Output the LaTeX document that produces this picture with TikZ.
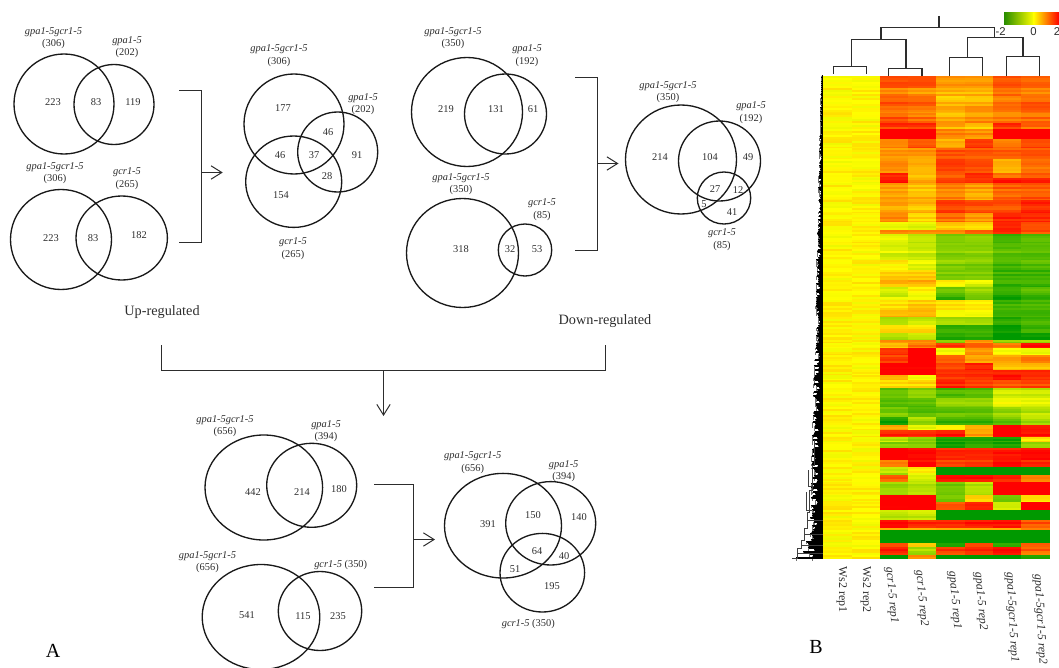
\documentclass[tikz,border=0pt]{standalone}
\usepackage{fontspec}
\setmainfont{Liberation Serif}
\newfontfamily\keyfont{Liberation Sans}
\usetikzlibrary{arrows.meta}
\definecolor{ink}{RGB}{45,45,45}
\tikzset{
  >={Straight Barb[length=8pt,width=10pt,line width=.75pt]},
  ring/.style={draw=black!90,line width=1pt},
  bracket/.style={draw=ink,line width=.75pt},
  flow/.style={->,draw=ink,line width=.75pt},
  num/.style={font=\fontsize{7.8}{9.4}\selectfont,text=ink,inner sep=0pt},
  geno/.style={font=\fontsize{7.8}{9.4}\selectfont,text=ink,align=center,inner sep=0pt},
  regul/.style={font=\fontsize{10.7}{12}\selectfont,text=ink,inner sep=0pt},
  panel/.style={font=\fontsize{15}{16}\selectfont,text=black,inner sep=0pt},
  dendro/.style={draw=ink,line width=.9pt},
  twig/.style={draw=black!75,line width=.5pt},
  collabel/.style={font=\fontsize{9}{10}\selectfont,text=ink,anchor=west,inner sep=0pt},
  keylabel/.style={font=\keyfont\fontsize{8.5}{10}\selectfont,text=ink,inner sep=0pt},
}
\newcommand{\gt}[2]{\textit{#1}\\(#2)}
% one heat map cell: column, row top, value from -2 to 2
\newcommand{\heatcell}[3]{
  \pgfmathsetmacro\hv{max(-2,min(2,#3))}
  \pgfmathsetmacro\hr{\hv<0?1+\hv/2:1}
  \pgfmathsetmacro\hg{\hv<0?1+0.2*\hv:1-\hv/2}
  \definecolor{heatcol}{rgb}{\hr,\hg,0}
  \fill[heatcol] ({823.3+28.25*#1},#2) rectangle ({823.3+28.25*(#1+1)+.4},#2+2.2);
}
\begin{document}
\begin{tikzpicture}[x=.75pt,y=-.75pt]
  \clip (0,0) rectangle (1059,667);
  % venn circles
  \foreach \cx/\cy/\rx/\ry in {
    64/104/50/50, 114/104.5/40/40, 61/239.5/50.5/50, 121.7/238/45.7/42,
    294/124/50/50, 337.7/152/40/40, 293.7/181.7/48/45.7,
    467/112/55.5/54.5, 505.5/114/41/40, 462.5/253/56/54.5, 525/250/26.7/26,
    681/159.5/55.5/54.5, 719.5/161/41/40, 724/198/26.7/26,
    263.8/487.5/58.8/52.5, 311.7/485.3/45/42, 261/617/58.8/52.5, 320/611/41.7/39.5,
    503/525.7/58.5/52.3, 550.7/523.3/45/41.7, 542.3/572.7/42.3/39.3}
    \draw[ring] (\cx,\cy) ellipse [x radius=\rx,y radius=\ry];
  % counts inside the circles
  \foreach \px/\py/\txt [count=\k] in {
    53/102/223, 96/102/83, 133/102/119, 51/238/223, 93/238/83, 139/235/182,
    283/108/177, 328/132/46, 280/155/46, 314/155/37, 357/155/91, 327/176/28, 281/195/154,
    446/109/219, 496/109/131, 533/109/61, 461/249/318, 510/249/32, 537/249/53,
    660/157/214, 710/157/104, 748/157/49, 715/189/27, 738/190/12, 704/204/5, 732/212/41,
    253/492/442, 302/492/214, 339/489/180, 247/615/541, 303/616/115, 338/616/235,
    488/524/391, 533/515/150, 579/517/140, 537/551/64, 564/556/40, 515/569/51, 552/586/195}
    \node[num] (n\k) at (\px,\py) {\txt};
  % genotype labels
  \foreach \px/\py/\gn/\ct [count=\k] in {
    53.5/38/gpa1-5gcr1-5/306, 127/47/gpa1-5/202, 55/173/gpa1-5gcr1-5/306, 127/178.5/gcr1-5/265,
    279/55.5/gpa1-5gcr1-5/306, 363/104/gpa1-5/202, 293/248.5/gcr1-5/265,
    453/38/gpa1-5gcr1-5/350, 527/55.5/gpa1-5/192, 461/184/gpa1-5gcr1-5/350, 542/209.5/gcr1-5/85,
    668/92/gpa1-5gcr1-5/350, 751/112.5/gpa1-5/192, 722/239.5/gcr1-5/85,
    225/426/gpa1-5gcr1-5/656, 326/431/gpa1-5/394, 207.5/562/gpa1-5gcr1-5/656,
    472.7/462.5/gpa1-5gcr1-5/656, 563.7/471/gpa1-5/394}
    \node[geno] (g\k) at (\px,\py) {\gt{\gn}{\ct}};
  \node[geno] (g20) at (340.7,565) {\textit{gcr1-5} (350)};
  \node[geno] (g21) at (528.3,624) {\textit{gcr1-5} (350)};
  \node[regul] (upreg) at (162,312) {Up-regulated};
  \node[regul] (downreg) at (605,321) {Down-regulated};
  \node[panel] (panelA) at (53,651) {A};
  \node[panel] (panelB) at (816,647) {B};
  % brackets and arrows
  \coordinate (upa) at (179,90.5);
  \coordinate (upb) at (201.5,90.5);
  \coordinate (upc) at (201.5,242.5);
  \coordinate (upd) at (179,242.5);
  \coordinate (upm) at (201.5,172.5);
  \coordinate (upe) at (222.7,172.5);
  \draw[bracket] (upa) -- (upb) -- (upc) -- (upd);
  \draw[flow] (upm) -- (upe);
  \coordinate (dna) at (575,77.5);
  \coordinate (dnb) at (597.5,77.5);
  \coordinate (dnc) at (597.5,250.5);
  \coordinate (dnd) at (575,250.5);
  \coordinate (dnm) at (597.5,163.5);
  \coordinate (dne) at (618.5,163.5);
  \draw[bracket] (dna) -- (dnb) -- (dnc) -- (dnd);
  \draw[flow] (dnm) -- (dne);
  \coordinate (bga) at (161.5,345);
  \coordinate (bgb) at (161.5,370.5);
  \coordinate (bgc) at (605.5,370.5);
  \coordinate (bgd) at (605.5,345);
  \coordinate (bgm) at (383.5,370.5);
  \coordinate (bge) at (383.5,416);
  \draw[bracket] (bga) -- (bgb) -- (bgc) -- (bgd);
  \draw[flow] (bgm) -- (bge);
  \coordinate (ala) at (374,484.5);
  \coordinate (alb) at (413.5,484.5);
  \coordinate (alc) at (413.5,587.5);
  \coordinate (ald) at (374,587.5);
  \coordinate (alm) at (413.5,539.5);
  \coordinate (ale) at (435,539.5);
  \draw[bracket] (ala) -- (alb) -- (alc) -- (ald);
  \draw[flow] (alm) -- (ale);
  % heat map, bands of rows
  \pgfmathsetseed{7}
  \foreach \ya/\yb/\va/\vb/\vc/\vd/\ve/\vf in {
    76/88/1.3/1.3/.7/.7/1.2/1.1, 88/96/1/.8/.7/.7/1.2/1, 96/106/1.4/1.3/.5/.6/1.1/1.3,
    106/113/1/.9/.6/.8/1/1.2, 113/123/1.3/1.1/.6/.8/1/1.1, 123/129/1.5/1.5/.6/.4/1.5/1.1,
    129/139/2.3/2.3/1/.9/2.3/2.2, 139/148/1/1.4/.7/1.6/1.1/1.5, 148/159/.9/.9/1.4/1.4/1.3/1.4,
    159/173/1/.7/1.6/1.5/.7/1.2, 173/178/1.7/.4/1.2/1.6/1/1.2, 178/183/1.8/.7/1.5/1.6/1.8/1.8,
    183/193/.8/.5/1/.8/1.3/1.3, 193/200/.8/.6/1/.7/1.3/1.4,
    200/213/.7/.5/1.5/1.4/1.4/1.7, 213/222/1/.4/1.2/.9/1.8/1.7, 222/230/-.2/-.2/.4/.3/1.7/1.4,
    230/234/1/1/1/1.3/1.7/1.4, 234/243/-.3/-.6/-1.1/-1/-1.6/-1.4, 243/260/-.3/-.4/-.9/-.9/-1.3/-1.3,
    260/270/.1/-.2/-.9/-1/-1.4/-1.3, 270/280/.4/.4/-1/-1/-1.5/-1.5, 280/287/.6/.6/.1/-.2/-1.5/-1.5,
    287/297/-.4/0/-1.2/-.9/-1.6/-1.4, 297/300/0/0/-1.7/-1.1/-1.9/-1.6, 300/310/.3/.5/.3/.2/-1.4/-1.3,
    310/317/.7/.7/.1/.1/-1.4/-1.4, 317/325/-.7/-.5/-.8/-.8/-1.7/-1.5,
    325/333/.3/.3/-1.5/-1.5/-1.9/-1.5, 333/340/-.7/-.5/-1.7/-1.7/-2.2/-2, 340/343/1/1/-.8/.9/-.8/-.7,
    343/348/.4/1/1.5/1.2/1/1.9, 348/355/1.7/2.2/0/.9/0/-.1, 355/363/1.5/2.2/1.2/.7/.7/1,
    363/370/2.2/2.2/1.5/1.8/.6/.6, 370/375/2.2/2.2/1.8/1.8/1.8/1.8, 375/380/.5/-.2/1.5/1.5/1.8/1.5,
    380/388/.2/.3/1.7/1.5/1.3/1.4, 388/398/-1.3/-1/-1.5/-1.4/-.5/-.5, 398/407/-1.3/-1.3/-.8/-.8/-.1/-.2,
    407/417/-1/-1.3/-1.2/-1.2/-.8/-.5, 417/425/-1.8/-.8/-1.5/-1.5/-1.2/-.7, 425/430/.6/-.3/0/.5/2.2/1.7,
    430/437/1.7/1.7/1.9/.8/2.2/1.9, 437/442/-.5/-.9/-1.8/-1.8/-1.8/.2,
    442/448/-.9/-.9/-1.9/-1.6/-1.8/-.8, 448/460/2.3/1.9/1.7/1.7/1.8/1.9, 460/467/.9/1.9/1.4/1.5/1.8/1.6,
    467/475/-.6/0/-2.4/-2.4/-2.4/-2.4, 475/482/1.3/-.3/1.9/1.9/1.8/1, 482/495/-.8/-.6/-1.1/-.6/2.4/2.4,
    495/502/2.4/2.4/-1.2/.2/-1.2/.1, 502/510/1.9/2.4/1.2/1.6/-.5/1.9, 510/520/-.5/-.4/-2.4/-2.4/-2.4/-2.4,
    520/528/2/1.7/1.7/1.8/1.9/1.3, 528/530/.4/.4/.5/.5/.4/.8, 530/543/-2.4/-2.4/-2.4/-2.4/-2.4/-2.4,
    543/547/1.5/.5/-1.6/1.6/-1.5/1.4, 547/555/1.8/-.7/1.5/1.7/2/1.2, 555/559/-2.4/1/-2.4/-2.4/-2.4/-1.7}
  {
    \pgfmathtruncatemacro\rows{(\yb-\ya-1)/2}
    \foreach \r in {0,...,\rows} {
      \pgfmathsetmacro\y{\ya+2*\r}
      \pgfmathsetmacro\j{(rnd-.5)*.45}
      \heatcell{0}{\y}{(rnd-.35)*.42}
      \heatcell{1}{\y}{(rnd-.35)*.42}
      \foreach \col/\vv in {2/\va,3/\vb,4/\vc,5/\vd,6/\ve,7/\vf} {
        \heatcell{\col}{\y}{\vv+\j+(rnd-.5)*.15}
      }
    }
  }
  % row dendrogram, left of the map
  \foreach \y in {76,78,...,558} {
    \pgfmathsetmacro\env{\y<500?821-.025*(\y-76):810-15*((\y-500)/58)^3}
    \pgfmathsetmacro\xs{\env+rnd*(822-\env)*.7}
    \pgfmathsetmacro\yt{\y+rnd*7}
    \draw[black,line width=.8pt] (\xs,\y) -- (823.3,\y);
    \draw[black!55,line width=.6pt] (\xs,\y) -- (\xs,\yt);
  }
  \draw[twig] (792,558) -- (797,558) -- (797,548) -- (801,548) -- (801,540) -- (804,540)
    -- (804,528) -- (807,528) -- (807,512) -- (809,512) -- (809,490) -- (812,490) -- (812,465) -- (814,465) -- (814,440);
  \draw[twig] (797,553) -- (823,553) (801,545) -- (823,545) (804,534) -- (823,534) (807,520) -- (823,520);
  \draw[twig] (806,492) -- (806,510) -- (812,510) (808,470) -- (808,486) -- (814,486);
  % column dendrogram
  \draw[dendro] (939,16) -- (939,27.3);
  \draw[dendro] (881,39.3) -- (881,27.3) -- (994.3,27.3) -- (994.3,37.7);
  \draw[dendro] (851.3,66.7) -- (851.3,39.3) -- (906,39.3) -- (906,68.3);
  \draw[dendro] (833.3,74) -- (833.3,66.7) -- (866.7,66.7) -- (866.7,74);
  \draw[dendro] (888.7,76) -- (888.7,68.3) -- (922,68.3) -- (922,76);
  \draw[dendro] (967.7,57.7) -- (967.7,37.7) -- (1023,37.7) -- (1023,56.7);
  \draw[dendro] (949.3,76) -- (949.3,57.7) -- (982.7,57.7) -- (982.7,76);
  \draw[dendro] (1006.3,76) -- (1006.3,56.7) -- (1039.7,56.7) -- (1039.7,76);
  % colour key
  \shade[left color={rgb,255:red,40;green,140;blue,0},right color=yellow] (1004,13) rectangle (1034,25);
  \shade[left color=yellow,right color=red] (1033.5,13) rectangle (1059,25);
  \node[keylabel] (keyl) at (1000.7,32) {-2};
  \node[keylabel] (keym) at (1033.5,32) {0};
  \node[keylabel] (keyr) at (1057,32) {2};
  % column labels
  \node[collabel,rotate=-90] (c1) at (841.7,566) {Ws2 rep1};
  \node[collabel,rotate=-90] (c2) at (865.7,566) {Ws2 rep2};
  \node[collabel,rotate=-85] (c3) at (889,567) {\textit{gcr1-5 rep1}};
  \node[collabel,rotate=-85] (c4) at (919,570) {\textit{gcr1-5 rep2}};
  \node[collabel,rotate=-85] (c5) at (952,571) {\textit{gpa1-5 rep1}};
  \node[collabel,rotate=-85] (c6) at (978,572) {\textit{gpa1-5 rep2}};
  \node[collabel,rotate=-87] (c7) at (1009.5,572) {\textit{gpa1-5gcr1-5 rep1}};
  \node[collabel,rotate=-87] (c8) at (1037.5,574) {\textit{gpa1-5gcr1-5 rep2}};
\end{tikzpicture}
\end{document}
